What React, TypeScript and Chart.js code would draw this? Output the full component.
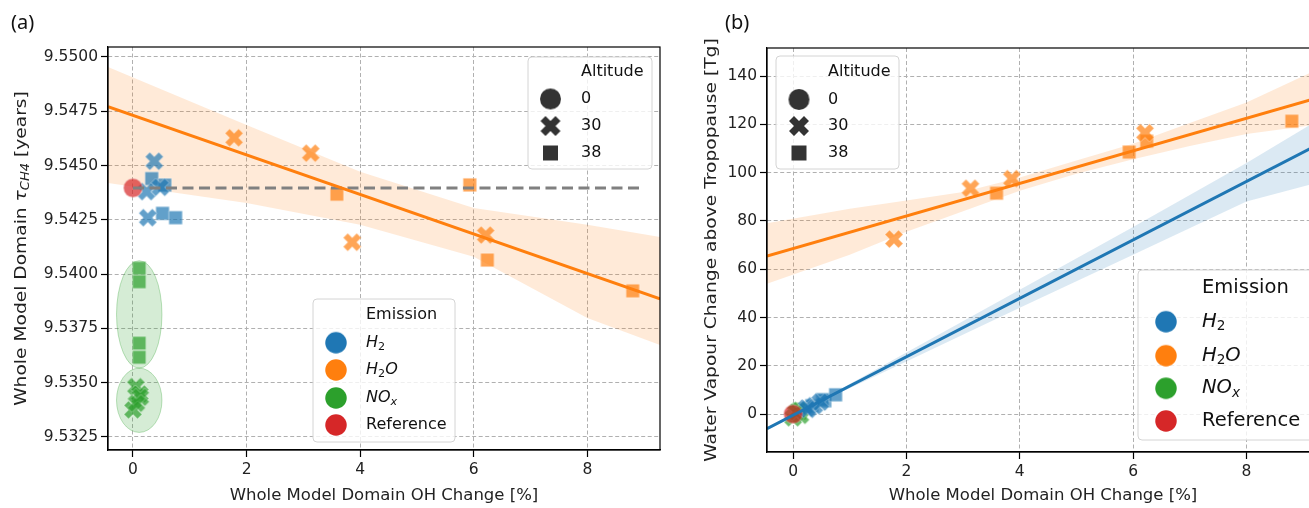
import React, { useEffect, useRef } from "react";
import { Chart, registerables } from "chart.js";
Chart.register(...registerables);

// ---------------- DATA ----------------
const xTicks = [0, 2, 4, 6, 8];
const tauTicks = [9.5325, 9.535, 9.5375, 9.54, 9.5425, 9.545, 9.5475, 9.55];
const wvTicks = [0, 20, 40, 60, 80, 100, 120, 140];

const altitudeLabels = ["0", "30", "38"];
const emissionLabels = ["H2", "H2O", "NOx", "Reference"];

// Reference run
const refOH = [0];
const refTau = [9.54397];
const refWV = [0];

// H2 emission (30 km = X, 38 km = square)
const h2OH30 = [0.375, 0.24, 0.48, 0.26];
const h2Tau30 = [9.5452, 9.5438, 9.544, 9.5426];
const h2WV30 = [3.5, 2.5, 5.0, 2.0];
const h2OH38 = [0.33, 0.56, 0.52, 0.75];
const h2Tau38 = [9.5444, 9.5441, 9.5428, 9.5426];
const h2WV38 = [3.5, 5.5, 6.0, 8.0];

// H2O emission
const h2oOH30 = [1.78, 3.13, 3.86, 6.21];
const h2oTau30 = [9.54628, 9.54557, 9.54147, 9.5418];
const h2oWV30 = [72.5, 93.5, 97.5, 116.5];
const h2oOH38 = [3.59, 5.93, 6.24, 8.8];
const h2oTau38 = [9.54368, 9.54411, 9.54065, 9.53923];
const h2oWV38 = [91.5, 108.5, 113.0, 121.3];

// NOx emission
const noxOH30 = [0.05, 0.12, 0.13, 0.0, 0.06];
const noxTau30 = [9.53482, 9.53448, 9.53433, 9.53375, 9.53405];
const noxWV30 = [0.5, 1.5, -0.5, -1.5, 0.8];
const noxOH38 = [0.11, 0.11, 0.11, 0.11];
const noxTau38 = [9.54027, 9.53965, 9.53682, 9.53617];
const noxWV38 = [2.0, 1.5, 0.8, 0.5];

// Reference level (dashed)
const refLineOH = [0, 8.98];
const refLineTau = [9.54397, 9.54397];

// NOx grouping ellipses (centre / half extents in data units)
const ellCenterOH = [0.11, 0.11];
const ellCenterTau = [9.538145, 9.53419];
const ellHalfOH = [0.4, 0.4];
const ellHalfTau = [0.002475, 0.00148];

// Regression fits, panel (a)
const tauFitOH = [-0.44, 9.28];
const tauFitH2O = [9.54771, 9.53886];
const tauBandOH = [-0.44, 2, 4, 6, 8, 9.28];
const tauBandUpper = [9.54954, 9.54687, 9.54472, 9.54305, 9.54227, 9.54171];
const tauBandLower = [9.5442, 9.54328, 9.54227, 9.5408, 9.53798, 9.53674];

// Regression fits, panel (b)
const wvFitOH = [-0.46, 9.28];
const wvFitH2O = [65.4, 131.1];
const wvFitH2 = [-6.07, 111.8];
const wvBandH2OOH = [-0.46, 1, 2, 3, 4, 5, 6, 7, 8, 9.28];
const wvBandH2OUpper = [79, 85, 88.5, 92, 98, 105, 112, 120.5, 129, 143];
const wvBandH2OLower = [54, 66, 75.5, 84, 92.5, 99.5, 105.5, 111, 116, 120];
const wvBandH2OH = [-0.46, 0.5, 2, 4, 6, 8, 9.28];
const wvBandH2Upper = [-5.5, 5.9, 25.5, 51.5, 77.5, 104, 122];
const wvBandH2Lower = [-6.7, 5.2, 21.8, 44, 66, 88, 96];

// ---------------- STYLE ----------------
const FONT = "'DejaVu Sans', sans-serif";
const BLUE = "rgba(31,119,180,0.7)";
const ORANGE = "rgba(255,127,14,0.7)";
const GREEN = "rgba(44,160,44,0.7)";
const RED = "rgba(214,39,40,0.7)";
const SOLID = ["#1f77b4", "#ff7f0e", "#2ca02c", "#d62728"];

type Shape = "o" | "X" | "s";
function marker(shape: Shape, color: string, size: number, edge = true): HTMLCanvasElement {
  const pad = 2;
  const d = Math.ceil(size + pad * 2);
  const c = document.createElement("canvas");
  c.width = d;
  c.height = d;
  const g = c.getContext("2d")!;
  g.translate(d / 2, d / 2);
  g.fillStyle = color;
  g.beginPath();
  if (shape === "o") g.arc(0, 0, size / 2, 0, Math.PI * 2);
  else if (shape === "s") g.rect(-size / 2, -size / 2, size, size);
  else {
    const u = size / 4;
    const pts = [[-1, -2], [0, -1], [1, -2], [2, -1], [1, 0], [2, 1], [1, 2], [0, 1], [-1, 2], [-2, 1], [-1, 0], [-2, -1]];
    pts.forEach(([a, b], i) => (i ? g.lineTo(a * u, b * u) : g.moveTo(a * u, b * u)));
    g.closePath();
  }
  g.fill();
  if (edge) {
    g.strokeStyle = "rgba(255,255,255,0.5)";
    g.lineWidth = 0.7;
    g.stroke();
  }
  return c;
}

const SIZE: Record<Shape, number> = { o: 19, X: 18, s: 13.5 };

const pts = (xs: number[], ys: number[]) => xs.map((x, i) => ({ x, y: ys[i] }));

function scatterSet(xs: number[], ys: number[], shape: Shape, color: string) {
  return {
    type: "scatter",
    data: pts(xs, ys),
    pointStyle: marker(shape, color, SIZE[shape]),
    pointRadius: 6,
    pointHoverRadius: 6,
    showLine: false,
    order: 2,
  };
}
function lineSet(xs: number[], ys: number[], color: string, dash: number[] = []) {
  return {
    type: "line",
    data: pts(xs, ys),
    borderColor: color,
    borderWidth: 3,
    borderDash: dash,
    pointRadius: 0,
    fill: false,
    showLine: true,
    order: 1,
  };
}
function bandSets(xs: number[], up: number[], lo: number[], color: string) {
  return [
    { type: "line", data: pts(xs, up), borderColor: "transparent", borderWidth: 0, pointRadius: 0, showLine: true, fill: "+1", backgroundColor: color, order: 3 },
    { type: "line", data: pts(xs, lo), borderColor: "transparent", borderWidth: 0, pointRadius: 0, showLine: true, fill: false, order: 3 },
  ];
}

function axis(min: number, max: number, ticks: number[], fmt: (v: number) => string, fixed: number, isX: boolean) {
  return {
    type: "linear",
    min,
    max,
    afterBuildTicks: (s: any) => {
      s.ticks = ticks.map((v) => ({ value: v }));
    },
    afterFit: (s: any) => {
      if (isX) s.height = fixed;
      else s.width = fixed;
    },
    grid: { color: "#b0b0b0", lineWidth: 1, drawTicks: true, tickColor: "#000", tickLength: 7, tickWidth: 1.2, tickBorderDash: [] },
    border: { display: true, color: "#000", width: 1.2, dash: [4, 2.5] },
    ticks: { color: "#222", font: { family: FONT, size: 15.5 }, padding: isX ? 4 : 3, callback: (v: any) => fmt(Number(v)), maxRotation: 0, autoSkip: false },
  };
}

// ---------------- TEXT HELPERS ----------------
type Part = { t: string; it?: boolean; sub?: boolean };
const partFont = (p: Part, size: number) => `${p.it ? "italic " : ""}${p.sub ? size * 0.7 : size}px ${FONT}`;
function richWidth(ctx: CanvasRenderingContext2D, parts: Part[], size: number) {
  let w = 0;
  for (const p of parts) {
    ctx.font = partFont(p, size);
    w += ctx.measureText(p.t).width;
  }
  return w;
}
function drawRich(ctx: CanvasRenderingContext2D, parts: Part[], x: number, y: number, size: number, align: "left" | "center") {
  const w = richWidth(ctx, parts, size);
  let cx = align === "center" ? x - w / 2 : x;
  ctx.textAlign = "left";
  ctx.textBaseline = "middle";
  for (const p of parts) {
    ctx.font = partFont(p, size);
    ctx.fillText(p.t, cx, y + (p.sub ? size * 0.25 : 0));
    cx += ctx.measureText(p.t).width;
  }
}
const emissionParts: Record<string, Part[]> = {
  H2: [{ t: "H", it: true }, { t: "2", sub: true }],
  H2O: [{ t: "H", it: true }, { t: "2", sub: true }, { t: "O", it: true }],
  NOx: [{ t: "NO", it: true }, { t: "x", it: true, sub: true }],
  Reference: [{ t: "Reference" }],
};

function roundRect(ctx: CanvasRenderingContext2D, x: number, y: number, w: number, h: number, r: number) {
  ctx.beginPath();
  ctx.moveTo(x + r, y);
  ctx.arcTo(x + w, y, x + w, y + h, r);
  ctx.arcTo(x + w, y + h, x, y + h, r);
  ctx.arcTo(x, y + h, x, y, r);
  ctx.arcTo(x, y, x + w, y, r);
  ctx.closePath();
}
function legendBox(ctx: CanvasRenderingContext2D, x0: number, y0: number, x1: number, y1: number) {
  roundRect(ctx, x0, y0, x1 - x0, y1 - y0, 4);
  ctx.fillStyle = "rgba(255,255,255,0.8)";
  ctx.fill();
  ctx.strokeStyle = "#d4d4d4";
  ctx.lineWidth = 1;
  ctx.stroke();
}

type LegendLayout = {
  alt: { box: number[]; mx: number; lx: number; rows: number[]; size: number };
  emi: { box: number[]; mx: number; lx: number; rows: number[]; size: number };
};
function drawLegends(ctx: CanvasRenderingContext2D, L: LegendLayout) {
  const a = L.alt;
  legendBox(ctx, a.box[0], a.box[1], a.box[2], a.box[3]);
  ctx.fillStyle = "#111";
  drawRich(ctx, [{ t: "Altitude" }], a.lx, a.rows[0], a.size, "left");
  const shapes: Shape[] = ["o", "X", "s"];
  const lsz: Record<Shape, number> = { o: 21, X: 20, s: 15 };
  altitudeLabels.forEach((lab, i) => {
    const m = marker(shapes[i], "#333333", lsz[shapes[i]], false);
    ctx.drawImage(m, a.mx - m.width / 2, a.rows[i + 1] - m.height / 2);
    ctx.fillStyle = "#111";
    drawRich(ctx, [{ t: lab }], a.lx, a.rows[i + 1], a.size, "left");
  });
  const e = L.emi;
  legendBox(ctx, e.box[0], e.box[1], e.box[2], e.box[3]);
  ctx.fillStyle = "#111";
  drawRich(ctx, [{ t: "Emission" }], e.lx, e.rows[0], e.size, "left");
  emissionLabels.forEach((lab, i) => {
    const m = marker("o", SOLID[i], 21.5, false);
    ctx.drawImage(m, e.mx - m.width / 2, e.rows[i + 1] - m.height / 2);
    ctx.fillStyle = "#111";
    drawRich(ctx, emissionParts[lab], e.lx, e.rows[i + 1], e.size, "left");
  });
}

function decorPlugin(opts: { yTitle: Part[]; yTitleX: number; yStretch: number; letter: string; letterX: number; legends: LegendLayout; ellipses: boolean }) {
  return {
    id: "decor",
    beforeDatasetsDraw(chart: any) {
      if (!opts.ellipses) return;
      const { ctx, chartArea: ca, scales } = chart;
      ctx.save();
      ctx.beginPath();
      ctx.rect(ca.left, ca.top, ca.right - ca.left, ca.bottom - ca.top);
      ctx.clip();
      ellCenterOH.forEach((cx, i) => {
        const px = scales.x.getPixelForValue(cx);
        const py = scales.y.getPixelForValue(ellCenterTau[i]);
        const rx = Math.abs(scales.x.getPixelForValue(cx + ellHalfOH[i]) - px);
        const ry = Math.abs(scales.y.getPixelForValue(ellCenterTau[i] + ellHalfTau[i]) - py);
        ctx.beginPath();
        ctx.ellipse(px, py, rx, ry, 0, 0, Math.PI * 2);
        ctx.fillStyle = "rgba(44,160,44,0.2)";
        ctx.fill();
        ctx.strokeStyle = "rgba(44,160,44,0.3)";
        ctx.lineWidth = 1;
        ctx.stroke();
      });
      ctx.restore();
    },
    afterDraw(chart: any) {
      const { ctx, chartArea: ca } = chart;
      ctx.save();
      ctx.strokeStyle = "#000";
      ctx.lineWidth = 1.2;
      ctx.strokeRect(ca.left, ca.top, ca.right - ca.left, ca.bottom - ca.top);
      ctx.fillStyle = "#222";
      drawRich(ctx, [{ t: "Whole Model Domain OH Change [%]" }], (ca.left + ca.right) / 2, 496, 16.5, "center");
      ctx.save();
      ctx.translate(opts.yTitleX, (ca.top + ca.bottom) / 2);
      ctx.rotate(-Math.PI / 2);
      ctx.scale(opts.yStretch, 1);
      drawRich(ctx, opts.yTitle, 0, 0, 16.5, "center");
      ctx.restore();
      ctx.fillStyle = "#111";
      ctx.font = "20px 'Noto Sans', sans-serif";
      ctx.textAlign = "left";
      ctx.textBaseline = "middle";
      ctx.fillText(opts.letter, opts.letterX, 23);
      drawLegends(ctx, opts.legends);
      ctx.restore();
    },
  };
}

function baseOptions(padding: any, x: any, y: any) {
  return {
    animation: false,
    responsive: false,
    maintainAspectRatio: false,
    devicePixelRatio: 1,
    layout: { padding },
    plugins: { legend: { display: false }, tooltip: { enabled: false } },
    events: [],
    scales: { x, y },
  };
}

function leftConfig(): any {
  const datasets: any[] = [
    lineSet(tauFitOH, tauFitH2O, "#ff7f0e"),
    lineSet(refLineOH, refLineTau, "#808080", [11, 5.5]),
    scatterSet(refOH, refTau, "o", RED),
    scatterSet(h2OH30, h2Tau30, "X", BLUE),
    scatterSet(h2OH38, h2Tau38, "s", BLUE),
    scatterSet(h2oOH30, h2oTau30, "X", ORANGE),
    scatterSet(h2oOH38, h2oTau38, "s", ORANGE),
    scatterSet(noxOH30, noxTau30, "X", GREEN),
    scatterSet(noxOH38, noxTau38, "s", GREEN),
    ...bandSets(tauBandOH, tauBandUpper, tauBandLower, "rgba(255,127,14,0.16)"),
  ];
  return {
    type: "scatter",
    data: { datasets },
    options: baseOptions(
      { left: 0, right: 10, top: 47, bottom: 0 },
      axis(-0.44, 9.28, xTicks, (v) => String(v), 58, true),
      axis(9.5319, 9.55046, tauTicks, (v) => v.toFixed(4), 108, false)
    ),
    plugins: [
      decorPlugin({
        yTitle: [{ t: "Whole Model Domain " }, { t: "τ", it: true }, { t: "CH4", it: true, sub: true }, { t: " [years]" }],
        yTitleX: 22,
        yStretch: 1.13,
        letter: "(a)",
        letterX: 11,
        ellipses: true,
        legends: {
          alt: { box: [528, 57, 652, 169], mx: 550.5, lx: 581, rows: [72, 99, 126, 153], size: 16 },
          emi: { box: [313, 299, 455, 442], mx: 336, lx: 366, rows: [315, 342.7, 370, 398, 425], size: 16 },
        },
      }),
    ],
  };
}

const R0 = 680;
function rightConfig(): any {
  const datasets: any[] = [
    lineSet(wvFitOH, wvFitH2O, "#ff7f0e"),
    lineSet(wvFitOH, wvFitH2, "#1f77b4"),
    scatterSet(refOH, refWV, "o", RED),
    scatterSet(h2OH30, h2WV30, "X", BLUE),
    scatterSet(h2OH38, h2WV38, "s", BLUE),
    scatterSet(h2oOH30, h2oWV30, "X", ORANGE),
    scatterSet(h2oOH38, h2oWV38, "s", ORANGE),
    scatterSet(noxOH30, noxWV30, "X", GREEN),
    scatterSet(noxOH38, noxWV38, "s", GREEN),
    ...bandSets(wvBandH2OOH, wvBandH2OUpper, wvBandH2OLower, "rgba(255,127,14,0.16)"),
    ...bandSets(wvBandH2OH, wvBandH2Upper, wvBandH2Lower, "rgba(31,119,180,0.16)"),
  ];
  return {
    type: "scatter",
    data: { datasets },
    options: baseOptions(
      { left: 0, right: 11, top: 48, bottom: 0 },
      axis(-0.46, 9.28, xTicks, (v) => String(v), 56, true),
      axis(-15.7, 151.6, wvTicks, (v) => String(v), 767 - R0, false)
    ),
    plugins: [
      decorPlugin({
        yTitle: [{ t: "Water Vapour Change above Tropopause [Tg]" }],
        yTitleX: 712 - R0,
        yStretch: 1.13,
        letter: "(b)",
        letterX: 725 - R0,
        ellipses: false,
        legends: {
          alt: { box: [776 - R0, 56, 899 - R0, 169], mx: 799 - R0, lx: 828 - R0, rows: [72, 99.5, 126, 153], size: 16 },
          emi: { box: [1138 - R0, 270, 1314 - R0, 440], mx: 1166 - R0, lx: 1202 - R0, rows: [288, 321.7, 355.7, 388.3, 421], size: 19.5 },
        },
      }),
    ],
  };
}

export default function App() {
  const leftRef = useRef<HTMLCanvasElement>(null);
  const rightRef = useRef<HTMLCanvasElement>(null);
  useEffect(() => {
    const c1 = new Chart(leftRef.current!, leftConfig());
    const c2 = new Chart(rightRef.current!, rightConfig());
    return () => {
      c1.destroy();
      c2.destroy();
    };
  }, []);
  return (
    <div style={{ position: "fixed", left: 0, top: 0, width: 1309, height: 508, overflow: "hidden", background: "#fff" }}>
      <canvas ref={leftRef} width={670} height={508} style={{ position: "absolute", left: 0, top: 0, width: 670, height: 508 }} />
      <canvas ref={rightRef} width={650} height={508} style={{ position: "absolute", left: R0, top: 0, width: 650, height: 508 }} />
    </div>
  );
}
